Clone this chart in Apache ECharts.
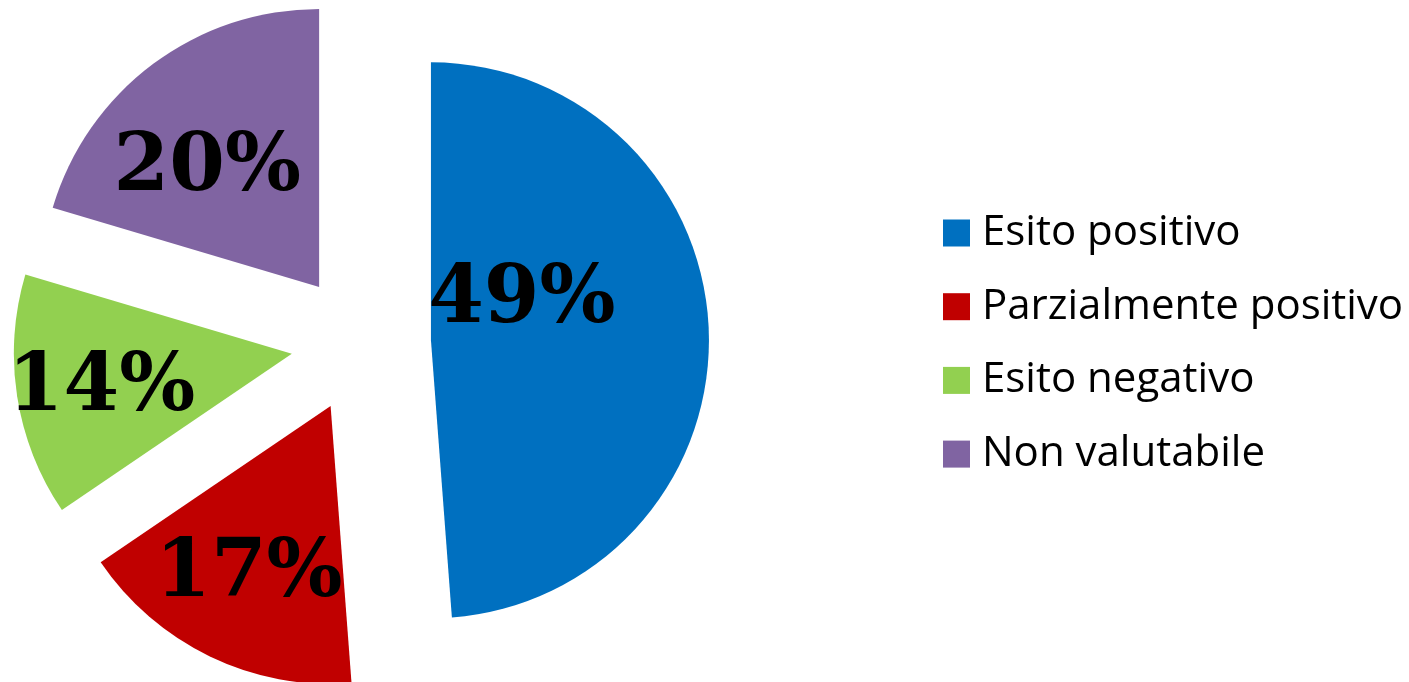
<!DOCTYPE html>
<html>
<head>
<meta charset="utf-8">
<script src="https://cdn.jsdelivr.net/npm/echarts@6/dist/echarts.min.js"></script>
<style>
html, body { margin: 0; padding: 0; background: #fff; }
#main { width: 1409px; height: 682px; }
</style>
</head>
<body>
<div id="main"></div>
<script>
var categories = ['Esito positivo', 'Parzialmente positivo', 'Esito negativo', 'Non valutabile'];
var values = [48.8, 16.7, 14.1, 20.4];
var colors = ['#0070C0', '#C00000', '#92D050', '#8064A2'];
// spostamento delle etichette rispetto alla posizione "inside"
var labelShift = [[-51, -34], [-20, 41], [-50, 14], [-27, -4]];

var myChart = echarts.init(document.getElementById('main'));

var data = [];
for (var i = 0; i < categories.length; i++) {
	data.push({
		name: categories[i],
		value: values[i],
		selected: true,
		itemStyle: { color: colors[i] }
	});
}

var option = {
	animation: false,
	legend: {
		orient: 'vertical',
		left: 938,
		top: 206,
		icon: 'rect',
		itemWidth: 27,
		itemHeight: 27,
		itemGap: 29.7,
		selectedMode: false,
		textStyle: {
			fontFamily: 'Open Sans',
			fontSize: 42,
			color: '#000',
			lineHeight: 44,
			padding: [0, 0, 0, 7]
		},
		data: categories
	},
	series: [
		{
			type: 'pie',
			center: [361, 343],
			radius: 278,
			startAngle: 90,
			clockwise: true,
			selectedMode: 'multiple',
			selectedOffset: 70,
			emphasis: { disabled: true },
			label: {
				show: true,
				position: 'inside',
				formatter: function (p) {
					return Math.round(p.value) + '%';
				},
				color: '#000',
				fontFamily: 'DejaVu Serif',
				fontWeight: 'bold',
				fontSize: 80
			},
			labelLine: { show: false },
			labelLayout: function (params) {
				var s = labelShift[params.dataIndex];
				return { dx: s[0], dy: s[1] };
			},
			data: data
		}
	]
};
myChart.setOption(option);
</script>
</body>
</html>
